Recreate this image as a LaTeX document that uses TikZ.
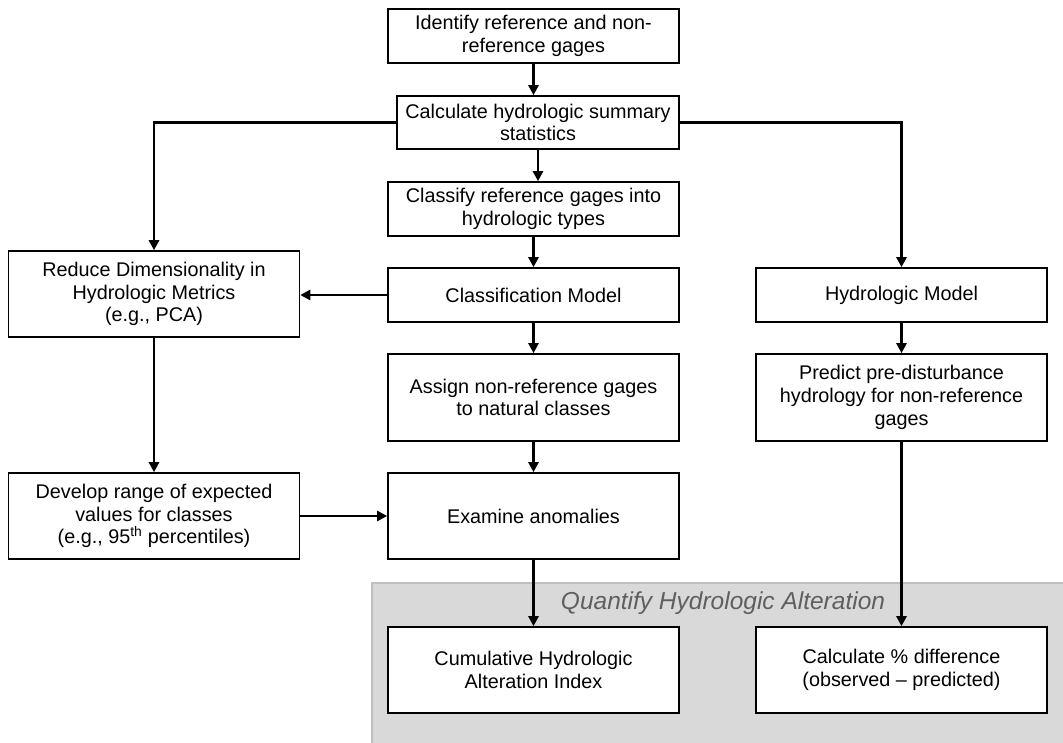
\documentclass[tikz,border=0pt]{standalone}
\usepackage{fontspec}
\setmainfont{Liberation Sans}
\usetikzlibrary{arrows.meta}
\definecolor{panelfill}{HTML}{D9D9D9}
\definecolor{panelline}{HTML}{BFBFBF}
\definecolor{titlegray}{HTML}{5F5F5F}
\tikzset{
  stepbox/.style={draw=black, line width=1.6pt, fill=white, align=center, inner sep=0pt,
    font=\fontsize{19.8}{22.8}\selectfont},
  wide/.style={minimum width=291pt},
  arr/.style={line width=2.8pt, -{Triangle[length=10pt,width=10pt]}},
}
\begin{document}
\begin{tikzpicture}[x=1pt,y=-1pt]
\useasboundingbox (0,0) rectangle (1063,743);
% panel
\fill[panelfill] (372,583) rectangle (1063,743);
\draw[panelline, line width=2.5pt] (372,743) -- (372,583) -- (1063,583);
\node[font=\fontsize{24.5}{28}\selectfont\itshape, text=titlegray] (title) at (723,603) {Quantify Hydrologic Alteration};

% nodes
\node[stepbox, wide, minimum height=54pt] (b1) at (533.5,36) {Identify reference and non-\\reference gages};
\node[stepbox, minimum width=282pt, minimum height=53pt] (b2) at (538,122.5) {Calculate hydrologic summary\\statistics};
\node[stepbox, wide, minimum height=54pt] (b3) at (533.5,209) {Classify reference gages into\\hydrologic types};
\node[stepbox, wide, minimum height=54pt] (cm) at (533.5,295) {Classification Model};
\node[stepbox, wide, minimum height=86pt] (red) at (154,294) {Reduce Dimensionality in\\Hydrologic Metrics\\(e.g., PCA)};
\node[stepbox, wide, minimum height=54pt] (hm) at (901.5,295) {Hydrologic Model};
\node[stepbox, wide, minimum height=87pt] (asg) at (533.5,397.5) {Assign non-reference gages\\to natural classes};
\node[stepbox, wide, minimum height=87pt] (pre) at (901.5,397.5) {Predict pre-disturbance\\hydrology for non-reference\\gages};
\node[stepbox, wide, minimum height=86pt] (dev) at (154,516) {Develop range of expected\\values for classes\\(e.g., 95\textsuperscript{th} percentiles)};
\node[stepbox, wide, minimum height=86pt] (exa) at (533.5,516) {Examine anomalies};
\node[stepbox, wide, minimum height=86pt] (cum) at (533.5,670) {Cumulative Hydrologic\\Alteration Index};
\node[stepbox, wide, minimum height=86pt] (cal) at (901.5,670) {Calculate \% difference\\(observed -- predicted)};

% connectors
\draw[arr] (b1.south) -- (b1.south |- b2.north);
\draw[arr] (b2.south) -- (b2.south |- b3.north);
\draw[arr] (b2.west) -| (red.north);
\draw[arr] (b2.east) -| (hm.north);
\draw[arr] (b3.south) -- (cm.north);
\draw[arr] (cm.west) -- (cm.west -| red.east);
\draw[arr] (cm.south) -- (asg.north);
\draw[arr] (asg.south) -- (exa.north);
\draw[arr] (red.south) -- (dev.north);
\draw[arr] (dev.east) -- (dev.east -| exa.west);
\draw[arr] (hm.south) -- (pre.north);
\draw[arr] (exa.south) -- (cum.north);
\draw[arr] (pre.south) -- (cal.north);
\end{tikzpicture}
\end{document}
